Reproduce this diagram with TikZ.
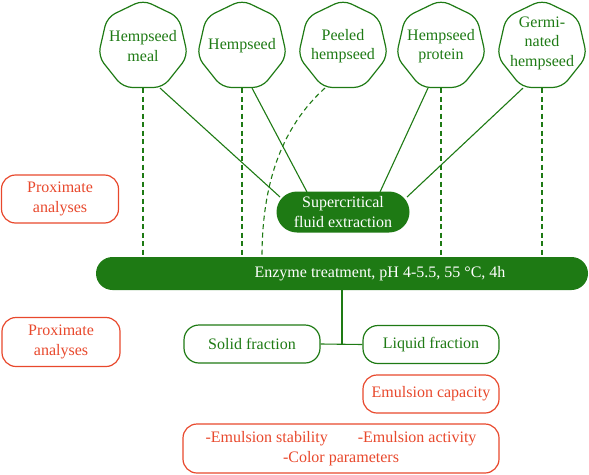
\documentclass[tikz,border=0pt]{standalone}
\usepackage{fontspec}
\setmainfont{Liberation Serif}
\usetikzlibrary{shapes.geometric,shapes.misc}
\definecolor{gr}{RGB}{30,122,20}
\definecolor{rd}{RGB}{232,72,44}
\begin{document}
\begin{tikzpicture}[x=1pt,y=-1pt,
  font=\fontsize{16}{19.5}\selectfont,
  hept/.style={draw=gr, line width=1.2pt, regular polygon, regular polygon sides=7,
    minimum size=92pt, inner sep=0pt, rounded corners=9pt},
  htext/.style={text=gr, align=center, inner sep=0pt, font=\fontsize{16}{19.5}\selectfont},
  gline/.style={draw=gr, line width=1.1pt},
  dsh/.style={dash pattern=on 5pt off 3.5pt},
  gbox/.style={draw=gr, line width=1.2pt, rounded corners=15pt, minimum width=136pt,
    minimum height=38pt, text=gr, inner sep=0pt},
  rbox/.style={draw=rd, line width=1.2pt, rounded corners=14pt, text=rd, align=center, inner sep=0pt},
  fillbox/.style={rounded rectangle, fill=gr, text=white, align=center, inner sep=0pt}
]
\useasboundingbox (0,0) rectangle (589,474);

\node[hept, label={[htext]center:{Hempseed\\meal}}] (meal) at (143,46) {};
\node[hept, label={[htext]center:{Hempseed}}] (hemp) at (242,46) {};
\node[hept, label={[htext]center:{Peeled\\hempseed}}] (peel) at (343,46) {};
\node[hept, label={[htext]center:{Hempseed\\protein}}] (prot) at (441,46) {};
\node[hept, label={[htext, yshift=3pt]center:{Germi-\\nated\\hempseed}}] (germ) at (542,46) {};

\node[fillbox, minimum width=133pt, minimum height=41pt] (sfe) at (343,212) {Supercritical\\fluid extraction};
\node[fillbox, minimum width=492pt, minimum height=33pt] (bar) at (342,273.5) {};
\node[text=white, inner sep=0pt] (bartext) at (380,274) {Enzyme treatment, pH 4-5.5, 55 °C, 4h};

\node[rbox, minimum width=117pt, minimum height=48pt] (prox1) at (60,199) {Proximate\\analyses};
\node[rbox, minimum width=118pt, minimum height=49pt] (prox2) at (61,342) {Proximate\\analyses};

\node[gbox] (solid) at (252,344) {Solid fraction};
\node[gbox] (liquid) at (431,344.5) {Liquid fraction};
\node[rbox, minimum width=136pt, minimum height=38pt] (emcap) at (431,394) {Emulsion capacity};
\node[rbox, minimum width=316pt, minimum height=49pt] (props) at (341,448.5)
  {-Emulsion stability\hspace{30pt}-Emulsion activity\\-Color parameters};

% connectors
\draw[gline, dsh] (meal.south) -- (meal.south |- bar.north);
\draw[gline] ([xshift=17pt]meal.south) -- ([shift={(-63,-15)}]sfe.center);
\draw[gline, dsh] (hemp.south) -- (hemp.south |- bar.north);
\draw[gline] ([xshift=10pt]hemp.south) -- ([shift={(-36,-20)}]sfe.center);
\draw[gline, dsh] ([xshift=-18pt]peel.south) .. controls +(-50,45) and +(0,-60) .. ([xshift=-80pt]bar.north);
\draw[gline] ([xshift=-13pt]prot.south) -- ([shift={(37,-20)}]sfe.center);
\draw[gline, dsh] (prot.south) -- (prot.south |- bar.north);
\draw[gline] ([xshift=-19pt]germ.south) -- ([shift={(64,-15)}]sfe.center);
\draw[gline, dsh] (germ.south) -- (germ.south |- bar.north);

\draw[gline] (bar.south) -- (bar.south |- solid.east);
\draw[gline] (solid.east) -- (liquid.west);
\end{tikzpicture}
\end{document}
